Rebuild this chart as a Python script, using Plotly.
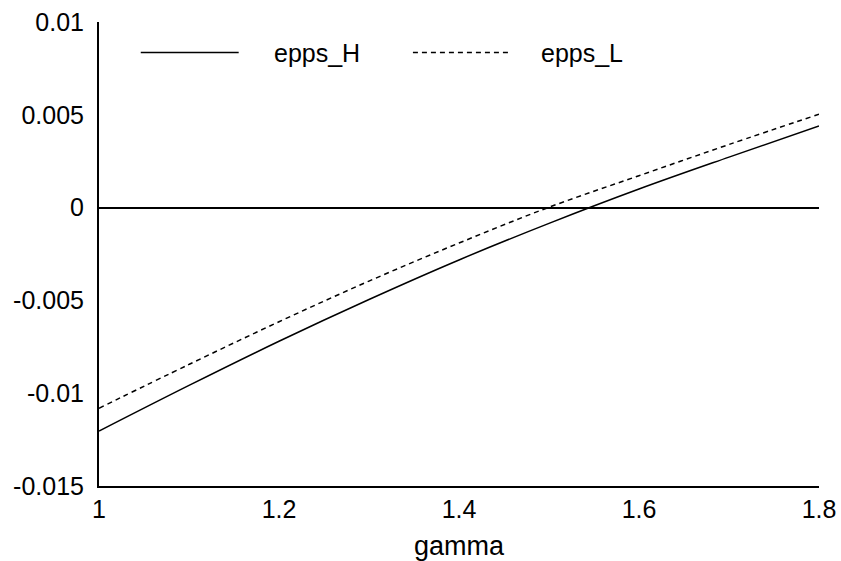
import plotly.graph_objects as go

gamma = [1.0, 1.1, 1.2, 1.3, 1.4, 1.5, 1.6, 1.7, 1.8]
epps_H = [-0.01204, -0.00958, -0.00720, -0.00495, -0.00282, -0.00085, 0.00100, 0.00272, 0.00440]
epps_L = [-0.01081, -0.00845, -0.00615, -0.00396, -0.00191, 0.00002, 0.00172, 0.00340, 0.00503]
series_names = ["epps_H", "epps_L"]
x_ticks = [1, 1.2, 1.4, 1.6, 1.8]
x_tick_labels = ["1", "1.2", "1.4", "1.6", "1.8"]
y_ticks = [-0.015, -0.01, -0.005, 0, 0.005, 0.01]
y_tick_labels = ["-0.015", "-0.01", "-0.005", "0", "0.005", "0.01"]

FONT = "Liberation Sans, Arial, sans-serif"
TF = dict(family=FONT, size=25, color="black")
fig = go.Figure()
fig.add_trace(go.Scatter(x=gamma, y=epps_H, mode="lines", name=series_names[0],
                         line=dict(color="black", width=1.5, shape="spline"), showlegend=False))
fig.add_trace(go.Scatter(x=gamma, y=epps_L, mode="lines", name=series_names[1],
                         line=dict(color="black", width=1.5, dash="5px,4px", shape="spline"), showlegend=False))

# manual legend
leg_y = 0.934
fig.add_shape(type="line", xref="paper", yref="paper", x0=0.058, x1=0.194, y0=leg_y, y1=leg_y,
              line=dict(color="black", width=1.5))
fig.add_annotation(xref="paper", yref="paper", x=0.240, y=leg_y, text=series_names[0],
                   showarrow=False, xanchor="left", yanchor="middle", font=dict(TF))
fig.add_shape(type="line", xref="paper", yref="paper", x0=0.436, x1=0.568, y0=leg_y, y1=leg_y,
              line=dict(color="black", width=1.5, dash="5px,4px"))
fig.add_annotation(xref="paper", yref="paper", x=0.611, y=leg_y, text=series_names[1],
                   showarrow=False, xanchor="left", yanchor="middle", font=dict(TF))

fig.update_layout(
    width=841, height=561,
    margin=dict(l=99, r=22, t=22, b=75),
    paper_bgcolor="white", plot_bgcolor="white",
    font=dict(TF),
    showlegend=False,
    xaxis=dict(range=[1, 1.8], tickvals=x_ticks, ticktext=x_tick_labels, showgrid=False,
               zeroline=False, showline=True, linecolor="black", linewidth=2, ticks="",
               automargin=False, tickfont=dict(TF),
               title=dict(text="gamma", standoff=14, font=dict(family=FONT, size=27, color="black"))),
    yaxis=dict(range=[-0.015, 0.01], tickvals=y_ticks, ticktext=y_tick_labels, showgrid=False,
               zeroline=True, zerolinecolor="black", zerolinewidth=2, tickfont=dict(TF),
               automargin=False,
               showline=True, linecolor="black", linewidth=2, ticks="", ticklabelstandoff=8),
)
fig.write_html("out.html")
